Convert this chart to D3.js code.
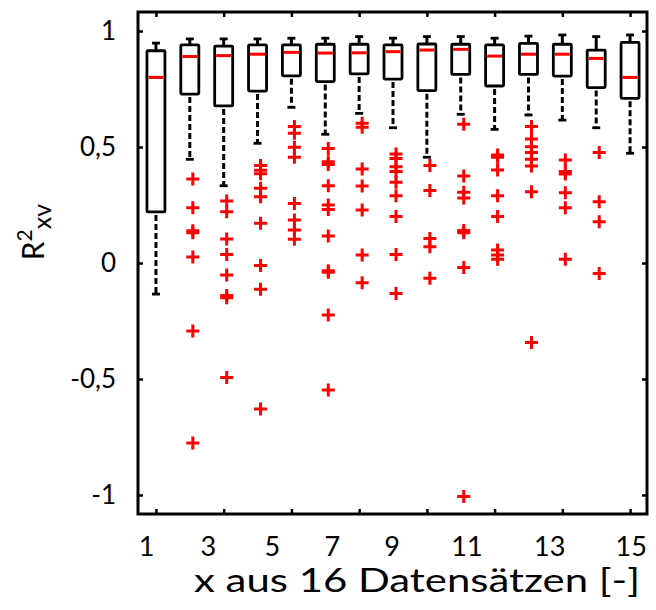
<!DOCTYPE html>
<html>
<head>
<meta charset="utf-8">
<script src="https://cdn.jsdelivr.net/npm/d3@7"></script>
<style>
    html, body { margin: 0; padding: 0; background: #fff; }
    #chart { width: 656px; height: 610px; }
    text { font-family: Lato, "Noto Sans", sans-serif; fill: #000; }
</style>
</head>
<body>
<div id="chart"></div>
<script>
/* ===== DATA ===== */
const groups = d3.range(1, 16);
const whiskerHigh = [0.948, 0.966, 0.966, 0.966, 0.969, 0.969, 0.976, 0.969, 0.976, 0.976, 0.969, 0.978, 0.983, 0.976, 0.983];
const q3 = [0.915, 0.940, 0.935, 0.940, 0.940, 0.943, 0.943, 0.940, 0.944, 0.943, 0.940, 0.947, 0.943, 0.918, 0.951];
const medians = [0.800, 0.890, 0.894, 0.900, 0.908, 0.905, 0.906, 0.911, 0.918, 0.921, 0.892, 0.900, 0.900, 0.882, 0.800];
const q1 = [0.220, 0.728, 0.677, 0.741, 0.807, 0.782, 0.815, 0.793, 0.743, 0.813, 0.763, 0.813, 0.806, 0.756, 0.710];
const whiskerLow = [-0.134, 0.447, 0.333, 0.516, 0.671, 0.555, 0.645, 0.583, 0.456, 0.641, 0.576, 0.638, 0.616, 0.583, 0.473];
const outliers = [
    [],
    [0.362, 0.238, 0.139, 0.130, 0.026, -0.293, -0.776],
    [0.267, 0.221, 0.103, 0.037, -0.052, -0.140, -0.150, -0.494],
    [0.420, 0.400, 0.385, 0.322, 0.286, 0.171, -0.011, -0.113, -0.629],
    [0.588, 0.559, 0.499, 0.456, 0.257, 0.185, 0.142, 0.102],
    [0.494, 0.437, 0.425, 0.333, 0.250, 0.231, 0.116, -0.033, -0.040, -0.224, -0.547],
    [0.602, 0.585, 0.405, 0.332, 0.228, 0.034, -0.085],
    [0.470, 0.451, 0.415, 0.394, 0.348, 0.290, 0.200, 0.037, -0.131],
    [0.420, 0.312, 0.106, 0.070, -0.066],
    [0.598, 0.375, 0.305, 0.280, 0.140, 0.130, -0.019, -1.007],
    [0.466, 0.456, 0.401, 0.290, 0.200, 0.056, 0.034, 0.016],
    [0.588, 0.534, 0.501, 0.476, 0.447, 0.418, 0.307, -0.343],
    [0.444, 0.394, 0.384, 0.303, 0.238, 0.016],
    [0.476, 0.264, 0.178, -0.045],
    []
];
// tick marks sit on every other box, the labels under them are set off a little
const xTicks = [1, 3, 5, 7, 9, 11, 13, 15];
const xLabelPos = [0.71, 2.53, 4.42, 6.19, 7.96, 10.17, 12.61, 15.02];
const yTicks = [-1, -0.5, 0, 0.5, 1];
const xTitle = "x aus 16 Datensätzen [-]";

const boxes = groups.map((g, i) => ({
    g: g,
    hi: whiskerHigh[i],
    q3: q3[i],
    med: medians[i],
    q1: q1[i],
    lo: whiskerLow[i]
}));

const points = [];
outliers.forEach((list, i) => {
    list.forEach((v) => points.push({ g: groups[i], v: v }));
});

/* ===== LAYOUT ===== */
const width = 656;
const height = 610;
const margin = { top: 12, right: 9, bottom: 96, left: 138 };
const innerW = width - margin.left - margin.right;
const innerH = height - margin.top - margin.bottom;

const svg = d3.select("#chart")
    .append("svg")
    .attr("width", width)
    .attr("height", height);

const g = svg.append("g")
    .attr("transform", `translate(${margin.left},${margin.top})`);

/* ===== SCALES ===== */
const x = d3.scaleLinear().domain([0.47, 15.5]).range([0, innerW]);
const y = d3.scaleLinear().domain([-1.082, 1.082]).range([innerH, 0]);

const boxW = 18;
const capW = 8;
const fmt = (v) => String(v).replace(".", ",");

/* ===== WHISKERS ===== */
const box = g.append("g")
    .selectAll("g")
    .data(boxes)
    .enter()
    .append("g");

box.append("line")
    .attr("x1", (d) => x(d.g))
    .attr("x2", (d) => x(d.g))
    .attr("y1", (d) => y(d.hi))
    .attr("y2", (d) => y(d.q3))
    .attr("stroke", "#000")
    .attr("stroke-width", 3);

box.append("line")
    .attr("x1", (d) => x(d.g))
    .attr("x2", (d) => x(d.g))
    .attr("y1", (d) => y(d.q1) + 3)
    .attr("y2", (d) => y(d.lo))
    .attr("stroke", "#000")
    .attr("stroke-width", 3)
    .attr("stroke-dasharray", "6,3");

box.selectAll(".cap")
    .data((d) => [d.hi, d.lo].map((v) => ({ g: d.g, v: v })))
    .enter()
    .append("line")
    .attr("class", "cap")
    .attr("x1", (d) => x(d.g) - capW / 2)
    .attr("x2", (d) => x(d.g) + capW / 2)
    .attr("y1", (d) => y(d.v))
    .attr("y2", (d) => y(d.v))
    .attr("stroke", "#000")
    .attr("stroke-width", 2.8);

/* ===== BOXES ===== */
box.append("rect")
    .attr("x", (d) => x(d.g) - boxW / 2)
    .attr("width", boxW)
    .attr("y", (d) => y(d.q3))
    .attr("height", (d) => y(d.q1) - y(d.q3))
    .attr("rx", 1)
    .attr("fill", "none")
    .attr("stroke", "#000")
    .attr("stroke-width", 2.8);

box.append("line")
    .attr("x1", (d) => x(d.g) - boxW / 2 + 1.5)
    .attr("x2", (d) => x(d.g) + boxW / 2 - 1.5)
    .attr("y1", (d) => y(d.med))
    .attr("y2", (d) => y(d.med))
    .attr("stroke", "#ff0000")
    .attr("stroke-width", 3);

/* ===== OUTLIERS ===== */
g.append("g")
    .selectAll("path")
    .data(points)
    .enter()
    .append("path")
    .attr("d", (d) => {
        const cx = x(d.g) + 3;
        const cy = y(d.v);
        return `M${cx - 6.5},${cy}H${cx + 6.5}M${cx},${cy - 6.5}V${cy + 6.5}`;
    })
    .attr("stroke", "#ff0000")
    .attr("stroke-width", 3)
    .attr("fill", "none");

/* ===== AXES (ticks inside, all four sides) ===== */
const tickLen = 5;

g.append("g")
    .attr("transform", `translate(0,${innerH})`)
    .call(d3.axisBottom(x).tickValues(xTicks).tickSizeInner(-tickLen).tickSizeOuter(0).tickFormat(""))
    .call((a) => a.select(".domain").remove())
    .call((a) => a.selectAll("line").attr("stroke-width", 2.5));

g.append("g")
    .attr("transform", `translate(0,${innerH})`)
    .call(d3.axisBottom(x).tickValues(xLabelPos).tickSize(0).tickPadding(23).tickFormat((d, i) => xTicks[i]))
    .call((a) => a.select(".domain").remove())
    .call((a) => a.selectAll("text").style("font-size", "27px").style("font-family", "Lato"));

g.append("g")
    .call(d3.axisTop(x).tickValues(xTicks).tickSizeInner(-tickLen).tickSizeOuter(0).tickFormat(""))
    .call((a) => a.select(".domain").remove())
    .call((a) => a.selectAll("line").attr("stroke-width", 2.5));

g.append("g")
    .call(d3.axisLeft(y).tickValues(yTicks).tickSizeInner(-tickLen).tickSizeOuter(0).tickPadding(22).tickFormat(fmt))
    .call((a) => a.select(".domain").remove())
    .call((a) => a.selectAll("line").attr("stroke-width", 2.5))
    .call((a) => a.selectAll("text").style("font-size", "26px").style("font-family", "Lato"));

g.append("g")
    .attr("transform", `translate(${innerW},0)`)
    .call(d3.axisRight(y).tickValues(yTicks).tickSizeInner(-tickLen).tickSizeOuter(0).tickFormat(""))
    .call((a) => a.select(".domain").remove())
    .call((a) => a.selectAll("line").attr("stroke-width", 2.5));

g.append("rect")
    .attr("width", innerW)
    .attr("height", innerH)
    .attr("fill", "none")
    .attr("stroke", "#000")
    .attr("stroke-width", 3);

/* ===== TITLES ===== */
svg.append("text")
    .attr("x", 194)
    .attr("y", 592)
    .attr("textLength", 446)
    .attr("lengthAdjust", "spacingAndGlyphs")
    .style("font-size", "33px")
    .text(xTitle);

const yTitle = svg.append("text")
    .attr("transform", `translate(44,232) rotate(-90)`)
    .attr("text-anchor", "middle")
    .style("font-size", "30px");
yTitle.append("tspan").text("R");
yTitle.append("tspan").attr("dy", -12).style("font-size", "21px").text("2");
yTitle.append("tspan").attr("dy", 19).style("font-size", "25px").text("xv");
</script>
</body>
</html>
